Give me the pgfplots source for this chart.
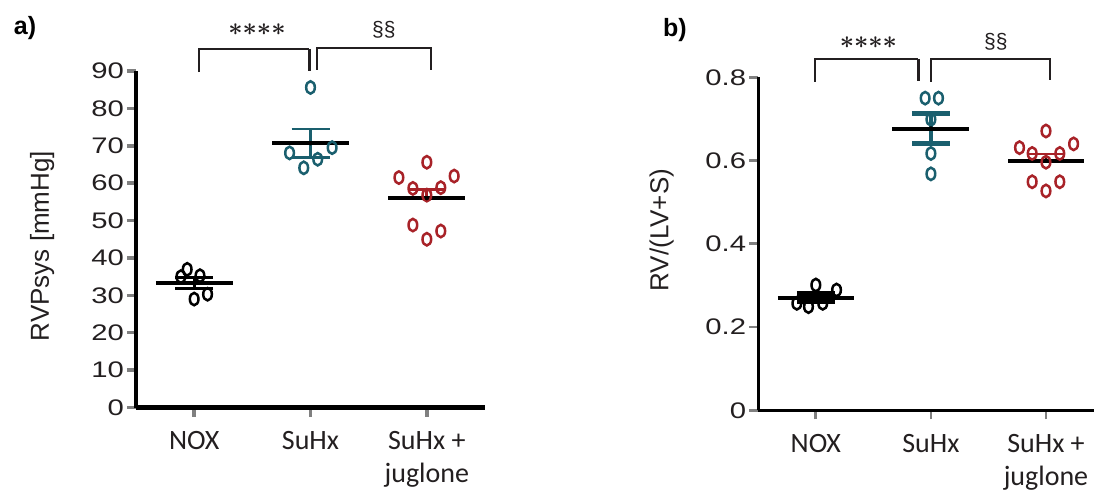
\documentclass[border=0pt]{standalone}
\usepackage{fontspec}
\setmainfont{Liberation Sans}
\newfontfamily\carlito{Carlito}
\usepackage{graphicx}
\usepackage{pgfplots}
\pgfplotsset{compat=1.18}
\definecolor{tealdot}{RGB}{26,95,110}
\definecolor{reddot}{RGB}{168,34,40}
\definecolor{ink}{RGB}{35,31,32}

\tikzset{stars/.style={ink, font=\fontsize{44}{44}\selectfont\boldmath}}
\pgfplotsset{
  dotplot/.style={
    scale only axis, clip=false,
    axis x line*=bottom, axis y line*=left,
    xmin=0.5, xtick={1,2,3},
    xticklabels={NOX, SuHx, {SuHx +\\juglone}},
    xticklabel style={font=\carlito\fontsize{28}{32.5}\selectfont, align=center,
      anchor=north, inner sep=0pt, text=ink, yshift=-15pt},
    yticklabel style={font=\fontsize{22.5}{26}\selectfont, anchor=east,
      inner sep=0pt, text=ink, xshift=-3pt},
    yticklabel={\scalebox{1.3}[1]{\pgfmathprintnumber{\tick}}},
    /pgf/number format/assume math mode=true,
    tick align=outside, major tick length=9pt,
    ylabel style={font=\fontsize{26}{30}\selectfont, anchor=center, text=ink},
  },
  pts/.style={only marks, mark=o, mark size=6.2pt,
    mark options={xscale=0.7, line width=2.5pt, #1}},
  sem/.style 2 args={only marks, mark=none, forget plot,
    error bars/.cd, y dir=#2, y explicit,
    error bar style={#1},
    error mark options={rotate=90, mark size=19pt, #1}},
}

\begin{document}
\begin{tikzpicture}
\useasboundingbox (0,0) rectangle (1094pt,491pt);

\node[font=\bfseries\fontsize{25}{25}\selectfont] at (25pt,463pt) {a)};
\node[font=\bfseries\fontsize{25}{25}\selectfont] at (675pt,461pt) {b)};

% a) systolic RV pressure
\begin{axis}[dotplot,
  at={(136pt,83.5pt)}, anchor=south west,
  width=349pt, height=336.5pt,
  xmax=3.5, ymin=0, ymax=90, ytick={0,10,...,90},
  axis line style={line width=4.5pt},
  major tick style={line width=3.5pt},
  ylabel={RVPsys [mmHg]},
  ylabel style={at={(axis description cs:-0.269,0.48)}},
]
\addplot[pts={black}] coordinates {
  (0.886,35.0) (0.94,36.96) (1.05,35.25) (1.0,29.0) (1.115,30.3)};
\addplot[pts={tealdot}] coordinates {
  (2.0,85.6) (1.82,68.1) (1.942,64.1) (2.062,66.4) (2.186,69.5)};
\addplot[pts={reddot}] coordinates {
  (3.0,65.6) (2.76,61.5) (3.235,61.9) (2.88,58.6) (3.12,58.8)
  (3.0,56.8) (2.88,48.8) (3.12,47.2) (3.0,45.0)};
% SEM
\addplot[sem={black, line width=3pt}{both}]
  coordinates {(1,33.2) +- (0,1.5)};
\addplot[sem={tealdot, line width=2.7pt}{both}]
  coordinates {(2,70.7) +- (0,3.8)};
\addplot[sem={reddot, line width=2.7pt}{plus}]
  coordinates {(3,56.0) +- (0,2.4)};
% means
\addplot[black, line width=4pt] coordinates {(0.67,33.2) (1.33,33.2)};
\addplot[black, line width=4pt] coordinates {(1.67,70.7) (2.33,70.7)};
\addplot[black, line width=4pt] coordinates {(2.67,56.0) (3.33,56.0)};
% significance
\draw[ink, line width=2pt] (1.04,89.7) |- (1.99,95.9);
\draw[ink, line width=3pt] (1.99,95.9) -- (1.99,90);
\draw[ink, line width=2pt] (2.06,90.4) |- (3.04,96.2) -- (3.04,90.4);
\node[stars] at (1.54,101.2) {${\ast}{\ast}{\ast}{\ast}$};
\node[ink, font=\fontsize{21}{21}\selectfont] at (2.63,101) {§§};
\end{axis}

% b) Fulton index
\begin{axis}[dotplot,
  at={(758.3pt,80.7pt)}, anchor=south west,
  width=336pt, height=333pt,
  xmax=3.42, ymin=0, ymax=0.8, ytick={0,0.2,...,0.8},
  axis line style={line width=3pt},
  major tick style={line width=2.8pt},
  ylabel={RV/(LV+S)},
  ylabel style={at={(axis description cs:-0.288,0.541)}},
]
\addplot[pts={black}] coordinates {
  (0.835,0.257) (0.936,0.249) (1.06,0.257) (1.0,0.301) (1.18,0.289)};
\addplot[pts={tealdot}] coordinates {
  (1.95,0.75) (2.066,0.75) (2.0,0.699) (2.0,0.617) (2.0,0.568)};
\addplot[pts={reddot}] coordinates {
  (3.0,0.671) (2.77,0.631) (3.24,0.640) (2.88,0.617) (3.12,0.617)
  (3.0,0.596) (2.88,0.549) (3.12,0.549) (3.0,0.527)};
% SEM
\addplot[sem={black, line width=4.5pt}{both}]
  coordinates {(1,0.271) +- (0,0.010)};
\addplot[sem={tealdot, line width=4.3pt}{both}]
  coordinates {(2,0.677) +- (0,0.036)};
\addplot[sem={reddot, line width=2.7pt}{plus}]
  coordinates {(3,0.600) +- (0,0.016)};
% means
\addplot[black, line width=4pt] coordinates {(0.67,0.271) (1.33,0.271)};
\addplot[black, line width=4pt] coordinates {(1.665,0.677) (2.335,0.677)};
\addplot[black, line width=4pt] coordinates {(2.67,0.600) (3.33,0.600)};
% significance
\draw[ink, line width=2pt] (0.99,0.789) |- (1.89,0.844);
\draw[ink, line width=3pt] (1.89,0.844) -- (1.89,0.791);
\draw[ink, line width=2pt] (2.0,0.789) |- (3.035,0.844) -- (3.035,0.793);
\node[stars] at (1.457,0.883) {${\ast}{\ast}{\ast}{\ast}$};
\node[ink, font=\fontsize{21}{21}\selectfont] at (2.565,0.885) {§§};
\end{axis}
\end{tikzpicture}
\end{document}
